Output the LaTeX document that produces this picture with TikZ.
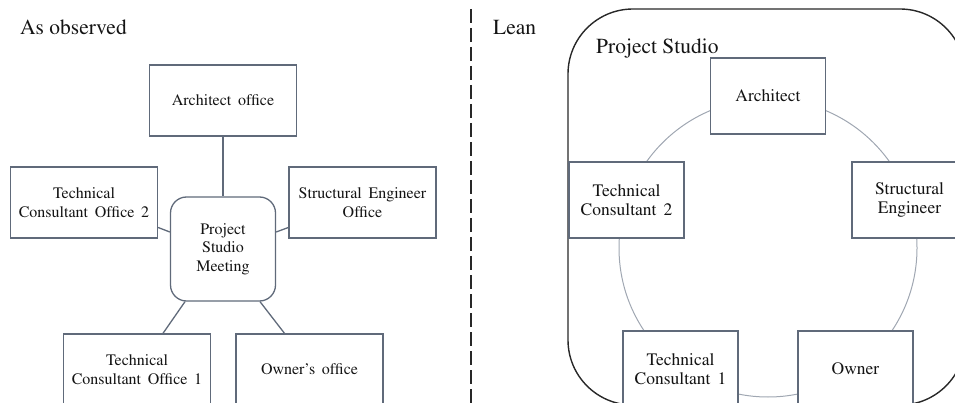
\documentclass[tikz,border=0pt]{standalone}
\usepackage[T1]{fontenc}
\usepackage{mathptmx}
\usetikzlibrary{calc}
\definecolor{edge}{RGB}{96,106,122}
\definecolor{ringcol}{RGB}{160,167,178}
\definecolor{ink}{RGB}{20,20,20}
\definecolor{framecol}{RGB}{40,40,40}
\newcommand{\boxfont}{\fontsize{16}{18.5}\selectfont\spaceskip=0.42em\relax}
\newcommand{\rolefont}{\fontsize{17.5}{18.5}\selectfont\spaceskip=0.4em\relax}
\tikzset{
  office/.style={draw=edge, line width=1.3pt, fill=white, minimum width=147pt,
    minimum height=71pt, inner sep=0pt, align=center,
    font=\boxfont, text=ink},
  role/.style={office, minimum width=115pt, minimum height=76pt, font=\rolefont},
  meeting/.style={office, rounded corners=16pt, minimum width=105pt, minimum height=104pt},
  link/.style={draw=edge, line width=1.3pt},
  heading/.style={anchor=base west, inner sep=0pt, font=\fontsize{21.5}{24}\selectfont, text=ink},
  divider/.style={draw=framecol, line width=1.6pt, dash pattern=on 14pt off 5pt},
  studio/.style={draw=framecol, line width=1.4pt, rounded corners=65pt,
    minimum width=397pt, minimum height=396pt, inner sep=0pt},
  ringline/.style={draw=ringcol, line width=1pt},
}
\begin{document}
\begin{tikzpicture}[x=1pt, y=-1pt]
\useasboundingbox (0,0) rectangle (955,403);
\clip (0,0) rectangle (955,403);

% ---- left panel: separate offices around a meeting room ----
\node[heading] (obs) at (20,35) {As observed};

\node[office]  (arch) at (223,100.5) {Architect office};
\node[office]  (tco2) at (84,202.5)  {Technical\\Consultant Office 2};
\node[office]  (seo)  at (362.5,202.5) {Structural Engineer\\Office};
\node[meeting] (psm)  at (223,249)   {Project\\Studio\\Meeting};
\node[office]  (tco1) at (137,369.5) {Technical\\Consultant Office 1};
\node[office]  (own)  at (309.5,369.5) {Owner's office};

\draw[link] (arch.south) -- (psm.north);
\draw[link] ($(tco2.east)+(0,25)$) -- ($(psm.west)+(0,-17)$);
\draw[link] ($(seo.west)+(0,25)$) -- ($(psm.east)+(0,-17)$);
\draw[link] ($(psm.south)+(-38,0)$) -- ($(tco1.north)+(26,0)$);
\draw[link] ($(psm.south)+(37,0)$) -- ($(own.north)+(-25,0)$);

% ---- divider ----
\coordinate (divtop) at (471,9);
\coordinate (divbot) at (471,410);
\draw[divider] (divtop) -- (divbot);

% ---- right panel: everyone in one studio ----
\node[heading] (lean) at (493,35) {Lean};
\node[studio] (room) at (766.5,207) {};
\node[heading] (roomlabel) at (596,54) {Project Studio};

\coordinate (hub) at (768,248);
\draw[ringline] (hub) circle[radius=149pt];

\node[role] (rarch) at (768,96)    {Architect};
\node[role] (rtc2)  at (626.5,200) {Technical\\Consultant 2};
\node[role] (rse)   at (909.5,200) {Structural\\Engineer};
\node[role] (rtc1)  at (680.5,369) {Technical\\Consultant 1};
\node[role] (rown)  at (855.5,369) {Owner};
\end{tikzpicture}
\end{document}
